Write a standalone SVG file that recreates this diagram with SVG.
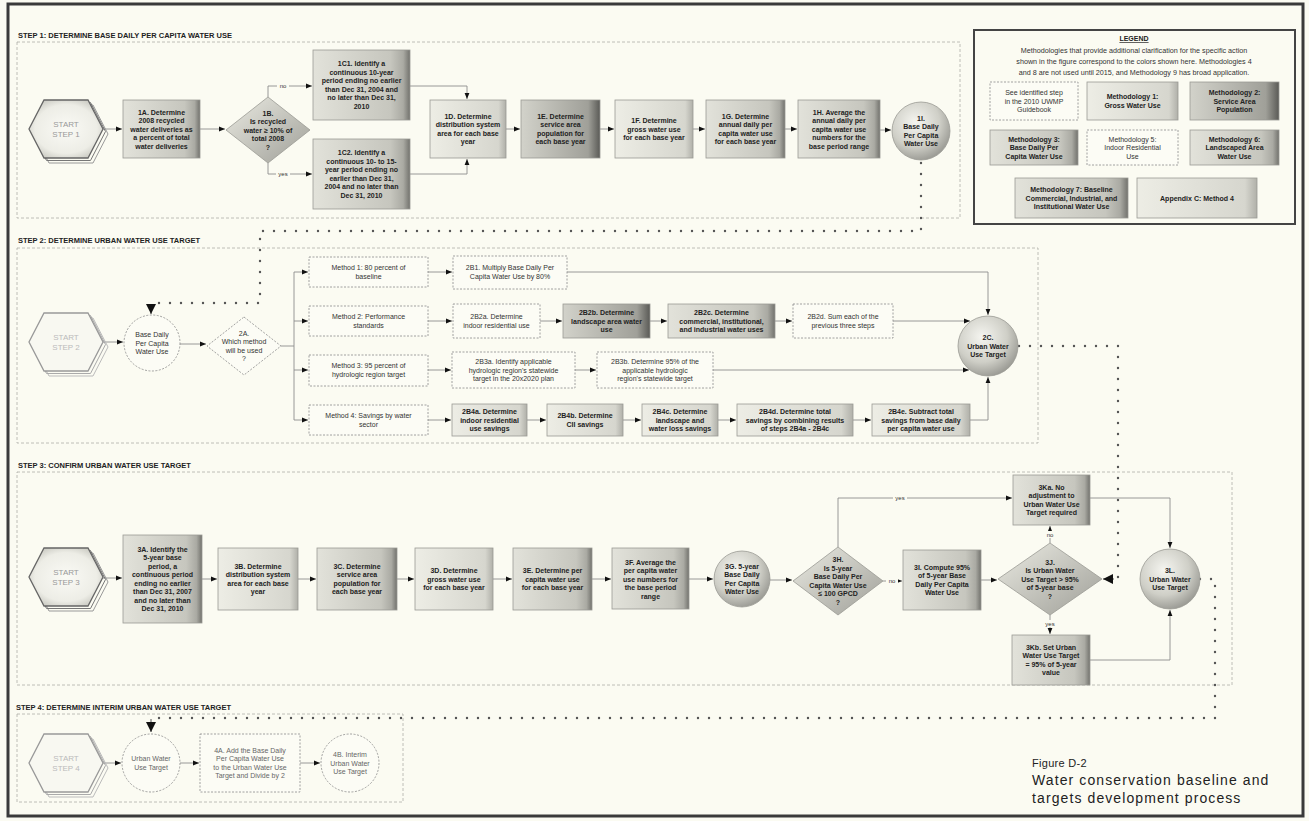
<svg xmlns="http://www.w3.org/2000/svg" width="1309" height="821" viewBox="0 0 1309 821">
<defs>
<linearGradient id="gG" x1="0" y1="0" x2="1" y2="0"><stop offset="0" stop-color="#e2e2da"/><stop offset="0.8" stop-color="#c6c6be"/><stop offset="0.93" stop-color="#aaaaa3"/><stop offset="1" stop-color="#72726d"/></linearGradient>
<linearGradient id="gD" x1="0" y1="0" x2="1" y2="0"><stop offset="0" stop-color="#d2d2ca"/><stop offset="0.85" stop-color="#a0a099"/><stop offset="1" stop-color="#5a5a56"/></linearGradient>
<linearGradient id="gL" x1="0" y1="0" x2="1" y2="0"><stop offset="0" stop-color="#ededE5"/><stop offset="0.9" stop-color="#d6d6ce"/><stop offset="1" stop-color="#b0b0a9"/></linearGradient>
<radialGradient id="gS" cx="0.4" cy="0.35" r="0.7"><stop offset="0" stop-color="#f5f5f0"/><stop offset="0.6" stop-color="#cfcfc7"/><stop offset="1" stop-color="#95958f"/></radialGradient>
<linearGradient id="gDi" x1="0" y1="0" x2="1" y2="1"><stop offset="0" stop-color="#eaeae2"/><stop offset="1" stop-color="#9f9f98"/></linearGradient>
<radialGradient id="gH" cx="0.5" cy="0.5" r="0.6"><stop offset="0" stop-color="#fafaf5"/><stop offset="0.7" stop-color="#ededE6"/><stop offset="1" stop-color="#c4c4bc"/></radialGradient>
<polygon id="hexP" points="-22,-29 22,-29 37,0 22,29 -22,29 -37,0"/>
<marker id="ah" viewBox="0 0 10 10" refX="10" refY="5" markerWidth="6" markerHeight="6" orient="auto" markerUnits="userSpaceOnUse"><path d="M0,1 L10,5 L0,9 z" fill="#111"/></marker>
<marker id="ahB" viewBox="0 0 10 10" refX="10" refY="5" markerWidth="10" markerHeight="10" orient="auto" markerUnits="userSpaceOnUse"><path d="M0,0 L10,5 L0,10 z" fill="#111"/></marker>
</defs>
<style>
.t{font-family:"Liberation Sans",Arial,sans-serif;font-size:7px;text-anchor:middle;fill:#222}
.b{font-weight:bold}
.w{fill:#333}
.lt{fill:#666}
.st{font-size:8px;fill:#999}
.hdr{font-family:"Liberation Sans",Arial,sans-serif;font-size:7.5px;font-weight:bold;fill:#222}
.sec{fill:none;stroke:#b0b0a8;stroke-width:0.8;stroke-dasharray:3 2}
.wb{fill:#fcfcf5;stroke:#8a8a8a;stroke-width:0.8;stroke-dasharray:2 1.5}
.gb{stroke:#9a9a94;stroke-width:0.8}
.ln{fill:none;stroke:#8c8c8c;stroke-width:0.9;marker-end:url(#ah)}
.pl{fill:none;stroke:#8c8c8c;stroke-width:0.9}
.dot{fill:none;stroke:#555;stroke-width:2.4;stroke-dasharray:0 11;stroke-linecap:round}
.dend{fill:none;stroke:#555;stroke-width:1;marker-end:url(#ahB)}
.lbl{font-family:"Liberation Sans",Arial,sans-serif;font-size:6px;text-anchor:middle;fill:#333}
.cap{font-family:"Liberation Sans",Arial,sans-serif;fill:#222}
</style>
<rect width="1309" height="821" fill="#fbfbf2"/>
<rect x="8" y="4" width="1295" height="812" fill="none" stroke="#3a3a3a" stroke-width="3"/>

<g id="sections">
<rect class="sec" x="17" y="42" width="943" height="176"/>
<rect class="sec" x="17" y="248" width="1021" height="195"/>
<rect class="sec" x="17" y="472" width="1215" height="213"/>
<rect class="sec" x="17" y="714" width="386" height="88"/>
<text class="hdr" x="18" y="38">STEP 1: DETERMINE BASE DAILY PER CAPITA WATER USE</text>
<text class="hdr" x="18" y="243">STEP 2: DETERMINE URBAN WATER USE TARGET</text>
<text class="hdr" x="18" y="468">STEP 3: CONFIRM URBAN WATER USE TARGET</text>
<text class="hdr" x="16" y="710">STEP 4: DETERMINE INTERIM URBAN WATER USE TARGET</text>
</g>

<g id="connectors">
<path class="ln" d="M103,129 H122"/>
<path class="ln" d="M200,129 H225"/>
<path class="ln" d="M268,97 V86 H312"/>
<path class="ln" d="M268,163 V174 H312"/>
<path class="ln" d="M410,86 H467 V99"/>
<path class="ln" d="M410,174 H467 V159"/>
<path class="ln" d="M506,129 H520"/>
<path class="ln" d="M600,129 H614"/>
<path class="ln" d="M693,129 H705"/>
<path class="ln" d="M785,129 H797"/>
<path class="ln" d="M880,130 H891"/>
<path class="dot" d="M921,163 V231 H260 V303 H151"/>
<path class="dend" d="M151,304 V314"/>

<path class="ln" d="M103,342 H123"/>
<path class="ln" d="M180,344 H206"/>
<path class="pl" d="M281,346 H294 M294,272 V420"/>
<path class="ln" d="M294,272 H308"/>
<path class="ln" d="M294,321 H308"/>
<path class="ln" d="M294,370 H308"/>
<path class="ln" d="M294,420 H308"/>
<path class="ln" d="M428,272 H452"/>
<path class="ln" d="M567,272 H988 V315"/>
<path class="ln" d="M428,321 H452"/>
<path class="ln" d="M540,321 H562"/>
<path class="ln" d="M650,321 H667"/>
<path class="ln" d="M775,321 H792"/>
<path class="ln" d="M893,321 H970"/>
<path class="ln" d="M428,370 H451"/>
<path class="ln" d="M575,370 H596"/>
<path class="ln" d="M713,370 H969"/>
<path class="ln" d="M428,420 H451"/>
<path class="ln" d="M527,420 H546"/>
<path class="ln" d="M623,420 H641"/>
<path class="ln" d="M718,420 H736"/>
<path class="ln" d="M853,420 H871"/>
<path class="ln" d="M970,420 H988 V377"/>
<path class="dot" d="M1019,346 H1118 V579"/>
<path class="dend" d="M1114,579 H1103"/>

<path class="ln" d="M103,578 H122"/>
<path class="ln" d="M202,579 H217"/>
<path class="ln" d="M298,579 H316"/>
<path class="ln" d="M397,579 H414"/>
<path class="ln" d="M493,579 H512"/>
<path class="ln" d="M592,579 H611"/>
<path class="ln" d="M689,579 H713"/>
<path class="ln" d="M770,580 H792"/>
<path class="ln" d="M883,581 H902"/>
<path class="ln" d="M981,580 H997"/>
<path class="ln" d="M838,547 V498 H1012"/>
<path class="ln" d="M1050,543 V526"/>
<path class="ln" d="M1050,615 V634"/>
<path class="ln" d="M1090,498 H1170 V548"/>
<path class="ln" d="M1090,660 H1170 V610"/>
<path class="dot" d="M1200,579 H1215 V718 H151"/>
<path class="dend" d="M151,719 V732"/>

<path class="ln" d="M103,763 H121"/>
<path class="ln" d="M180,763 H199"/>
<path class="ln" d="M300,763 H320"/>

<rect x="277" y="82" width="12" height="7" fill="#fbfbf2"/><text class="lbl" x="283" y="88">no</text>
<rect x="276" y="170" width="14" height="7" fill="#fbfbf2"/><text class="lbl" x="283" y="176">yes</text>
<rect x="893" y="494" width="14" height="7" fill="#fbfbf2"/><text class="lbl" x="900" y="500">yes</text>
<rect x="886" y="577" width="12" height="7" fill="#fbfbf2"/><text class="lbl" x="892" y="583">no</text>
<rect x="1044" y="531" width="12" height="7" fill="#fbfbf2"/><text class="lbl" x="1050" y="537">no</text>
<rect x="1043" y="620" width="14" height="7" fill="#fbfbf2"/><text class="lbl" x="1050" y="626">yes</text>
</g>

<!-- STEP 1 -->
<g id="start1" transform="translate(66,129)">
<use href="#hexP" transform="translate(5,5)" fill="none" stroke="#999" stroke-width="1"/>
<use href="#hexP" transform="translate(2.5,2.5)" fill="none" stroke="#777" stroke-width="1"/>
<use href="#hexP" fill="url(#gH)" stroke="#666" stroke-width="1.3"/>
<text class="t st" y="-2">START</text><text class="t st" y="8">STEP 1</text>
</g>
<g id="n1A"><rect class="gb" x="123" y="100" width="77" height="58" fill="url(#gG)"/>
<text class="t b" x="161.5" y="114.5"><tspan x="161.5">1A. Determine</tspan><tspan x="161.5" dy="8.5">2008 recycled</tspan><tspan x="161.5" dy="8.5">water deliveries as</tspan><tspan x="161.5" dy="8.5">a percent of total</tspan><tspan x="161.5" dy="8.5">water deliveries</tspan></text></g>
<g id="n1B"><polygon class="gb" points="268,97 310,130 268,163 226,130" fill="url(#gDi)"/>
<text class="t b" x="268" y="115.5"><tspan x="268">1B.</tspan><tspan x="268" dy="8.5">Is recycled</tspan><tspan x="268" dy="8.5">water ≥ 10% of</tspan><tspan x="268" dy="8.5">total 2008</tspan><tspan x="268" dy="8.5">?</tspan></text></g>
<g id="n1C1"><rect class="gb" x="313" y="50" width="97" height="70" fill="url(#gG)"/>
<text class="t b" x="361.5" y="66.25"><tspan x="361.5">1C1. Identify a</tspan><tspan x="361.5" dy="8.5">continuous 10-year</tspan><tspan x="361.5" dy="8.5">period ending no earlier</tspan><tspan x="361.5" dy="8.5">than Dec 31, 2004 and</tspan><tspan x="361.5" dy="8.5">no later than Dec 31,</tspan><tspan x="361.5" dy="8.5">2010</tspan></text></g>
<g id="n1C2"><rect class="gb" x="313" y="139" width="97" height="70" fill="url(#gG)"/>
<text class="t b" x="361.5" y="155.25"><tspan x="361.5">1C2. Identify a</tspan><tspan x="361.5" dy="8.5">continuous 10- to 15-</tspan><tspan x="361.5" dy="8.5">year period ending no</tspan><tspan x="361.5" dy="8.5">earlier than Dec 31,</tspan><tspan x="361.5" dy="8.5">2004 and no later than</tspan><tspan x="361.5" dy="8.5">Dec 31, 2010</tspan></text></g>
<g id="n1D"><rect class="gb" x="430" y="100" width="76" height="58" fill="url(#gL)"/>
<text class="t b" x="468" y="118.75"><tspan x="468">1D. Determine</tspan><tspan x="468" dy="8.5">distribution system</tspan><tspan x="468" dy="8.5">area for each base</tspan><tspan x="468" dy="8.5">year</tspan></text></g>
<g id="n1E"><rect class="gb" x="521" y="100" width="79" height="58" fill="url(#gD)"/>
<text class="t b" x="560.5" y="118.75"><tspan x="560.5">1E. Determine</tspan><tspan x="560.5" dy="8.5">service area</tspan><tspan x="560.5" dy="8.5">population for</tspan><tspan x="560.5" dy="8.5">each base year</tspan></text></g>
<g id="n1F"><rect class="gb" x="615" y="100" width="78" height="58" fill="url(#gL)"/>
<text class="t b" x="654" y="123"><tspan x="654">1F. Determine</tspan><tspan x="654" dy="8.5">gross water use</tspan><tspan x="654" dy="8.5">for each base year</tspan></text></g>
<g id="n1G"><rect class="gb" x="706" y="100" width="79" height="58" fill="url(#gG)"/>
<text class="t b" x="745.5" y="118.75"><tspan x="745.5">1G. Determine</tspan><tspan x="745.5" dy="8.5">annual daily per</tspan><tspan x="745.5" dy="8.5">capita water use</tspan><tspan x="745.5" dy="8.5">for each base year</tspan></text></g>
<g id="n1H"><rect class="gb" x="798" y="100" width="82" height="58" fill="url(#gG)"/>
<text class="t b" x="839" y="114.5"><tspan x="839">1H. Average the</tspan><tspan x="839" dy="8.5">annual daily per</tspan><tspan x="839" dy="8.5">capita water use</tspan><tspan x="839" dy="8.5">numbers for the</tspan><tspan x="839" dy="8.5">base period range</tspan></text></g>
<g id="n1I"><circle class="gb" cx="921" cy="131" r="29" fill="url(#gS)"/>
<text class="t b" x="921" y="120.75"><tspan x="921">1I.</tspan><tspan x="921" dy="8.5">Base Daily</tspan><tspan x="921" dy="8.5">Per Capita</tspan><tspan x="921" dy="8.5">Water Use</tspan></text></g>

<!-- STEP 2 -->
<g id="start2" transform="translate(66,342)">
<use href="#hexP" transform="translate(5,5)" fill="none" stroke="#bbb" stroke-width="1"/>
<use href="#hexP" transform="translate(2.5,2.5)" fill="none" stroke="#aaa" stroke-width="1"/>
<use href="#hexP" fill="#f8f8f1" stroke="#999" stroke-width="1.3"/>
<text class="t st" y="-2" style="fill:#bbb">START</text><text class="t st" y="8" style="fill:#bbb">STEP 2</text>
</g>
<g id="n2base"><circle class="wb" cx="152" cy="343" r="28"/>
<text class="t w" x="152" y="337"><tspan x="152">Base Daily</tspan><tspan x="152" dy="8.5">Per Capita</tspan><tspan x="152" dy="8.5">Water Use</tspan></text></g>
<g id="n2A"><polygon class="wb" points="244,317 281,346 244,375 207,346"/>
<text class="t w" x="244" y="335.75"><tspan x="244">2A.</tspan><tspan x="244" dy="8.5">Which method</tspan><tspan x="244" dy="8.5">will be used</tspan><tspan x="244" dy="8.5">?</tspan></text></g>
<g id="nM1"><rect class="wb" x="309" y="257" width="119" height="30"/>
<text class="t w" x="368.5" y="270.25"><tspan x="368.5">Method 1: 80 percent of</tspan><tspan x="368.5" dy="8.5">baseline</tspan></text></g>
<g id="nM2"><rect class="wb" x="309" y="306" width="119" height="30"/>
<text class="t w" x="368.5" y="319.25"><tspan x="368.5">Method 2: Performance</tspan><tspan x="368.5" dy="8.5">standards</tspan></text></g>
<g id="nM3"><rect class="wb" x="309" y="355" width="119" height="31"/>
<text class="t w" x="368.5" y="368.25"><tspan x="368.5">Method 3: 95 percent of</tspan><tspan x="368.5" dy="8.5">hydrologic region target</tspan></text></g>
<g id="nM4"><rect class="wb" x="309" y="405" width="119" height="30"/>
<text class="t w" x="368.5" y="418.25"><tspan x="368.5">Method 4: Savings by water</tspan><tspan x="368.5" dy="8.5">sector</tspan></text></g>
<g id="n2B1"><rect class="wb" x="453" y="256" width="114" height="33"/>
<text class="t w" x="510" y="270.25"><tspan x="510">2B1. Multiply Base Daily Per</tspan><tspan x="510" dy="8.5">Capita Water Use by 80%</tspan></text></g>
<g id="n2B2a"><rect class="wb" x="453" y="304" width="87" height="34"/>
<text class="t w" x="496.5" y="319.25"><tspan x="496.5">2B2a. Determine</tspan><tspan x="496.5" dy="8.5">indoor residential use</tspan></text></g>
<g id="n2B2b"><rect class="gb" x="563" y="304" width="87" height="34" fill="url(#gD)"/>
<text class="t b" x="606.5" y="315"><tspan x="606.5">2B2b. Determine</tspan><tspan x="606.5" dy="8.5">landscape area water</tspan><tspan x="606.5" dy="8.5">use</tspan></text></g>
<g id="n2B2c"><rect class="gb" x="668" y="304" width="107" height="34" fill="url(#gG)"/>
<text class="t b" x="721.5" y="315"><tspan x="721.5">2B2c. Determine</tspan><tspan x="721.5" dy="8.5">commercial, institutional,</tspan><tspan x="721.5" dy="8.5">and industrial water uses</tspan></text></g>
<g id="n2B2d"><rect class="wb" x="793" y="304" width="100" height="34"/>
<text class="t w" x="843" y="319.25"><tspan x="843">2B2d. Sum each of the</tspan><tspan x="843" dy="8.5">previous three steps</tspan></text></g>
<g id="n2B3a"><rect class="wb" x="452" y="352" width="123" height="36"/>
<text class="t w" x="513.5" y="364"><tspan x="513.5">2B3a. Identify applicable</tspan><tspan x="513.5" dy="8.5">hydrologic region's statewide</tspan><tspan x="513.5" dy="8.5">target in the 20x2020 plan</tspan></text></g>
<g id="n2B3b"><rect class="wb" x="597" y="352" width="116" height="36"/>
<text class="t w" x="655" y="364"><tspan x="655">2B3b. Determine 95% of the</tspan><tspan x="655" dy="8.5">applicable hydrologic</tspan><tspan x="655" dy="8.5">region's statewide target</tspan></text></g>
<g id="n2B4a"><rect class="gb" x="452" y="404" width="75" height="32" fill="url(#gL)"/>
<text class="t b" x="489.5" y="414"><tspan x="489.5">2B4a. Determine</tspan><tspan x="489.5" dy="8.5">indoor residential</tspan><tspan x="489.5" dy="8.5">use savings</tspan></text></g>
<g id="n2B4b"><rect class="gb" x="547" y="404" width="76" height="32" fill="url(#gL)"/>
<text class="t b" x="585" y="418.25"><tspan x="585">2B4b. Determine</tspan><tspan x="585" dy="8.5">CII savings</tspan></text></g>
<g id="n2B4c"><rect class="gb" x="642" y="404" width="76" height="32" fill="url(#gL)"/>
<text class="t b" x="680" y="414"><tspan x="680">2B4c. Determine</tspan><tspan x="680" dy="8.5">landscape and</tspan><tspan x="680" dy="8.5">water loss savings</tspan></text></g>
<g id="n2B4d"><rect class="gb" x="737" y="404" width="116" height="32" fill="url(#gL)"/>
<text class="t b" x="795" y="414"><tspan x="795">2B4d. Determine total</tspan><tspan x="795" dy="8.5">savings by combining results</tspan><tspan x="795" dy="8.5">of steps 2B4a - 2B4c</tspan></text></g>
<g id="n2B4e"><rect class="gb" x="872" y="404" width="98" height="32" fill="url(#gL)"/>
<text class="t b" x="921" y="414"><tspan x="921">2B4e. Subtract total</tspan><tspan x="921" dy="8.5">savings from base daily</tspan><tspan x="921" dy="8.5">per capita water use</tspan></text></g>
<g id="n2C"><circle class="gb" cx="988" cy="346" r="30" fill="url(#gS)"/>
<text class="t b" x="988" y="340"><tspan x="988">2C.</tspan><tspan x="988" dy="8.5">Urban Water</tspan><tspan x="988" dy="8.5">Use Target</tspan></text></g>

<!-- STEP 3 -->
<g id="start3" transform="translate(66,577)">
<use href="#hexP" transform="translate(5,5)" fill="none" stroke="#999" stroke-width="1"/>
<use href="#hexP" transform="translate(2.5,2.5)" fill="none" stroke="#777" stroke-width="1"/>
<use href="#hexP" fill="url(#gH)" stroke="#666" stroke-width="1.3"/>
<text class="t st" y="-2">START</text><text class="t st" y="8">STEP 3</text>
</g>
<g id="n3A"><rect class="gb" x="123" y="535" width="79" height="88" fill="url(#gG)"/>
<text class="t b" x="162.5" y="551.75"><tspan x="162.5">3A. Identify the</tspan><tspan x="162.5" dy="8.5">5-year base</tspan><tspan x="162.5" dy="8.5">period, a</tspan><tspan x="162.5" dy="8.5">continuous period</tspan><tspan x="162.5" dy="8.5">ending no earlier</tspan><tspan x="162.5" dy="8.5">than Dec 31, 2007</tspan><tspan x="162.5" dy="8.5">and no later than</tspan><tspan x="162.5" dy="8.5">Dec 31, 2010</tspan></text></g>
<g id="n3B"><rect class="gb" x="218" y="548" width="80" height="62" fill="url(#gL)"/>
<text class="t b" x="258" y="568.75"><tspan x="258">3B. Determine</tspan><tspan x="258" dy="8.5">distribution system</tspan><tspan x="258" dy="8.5">area for each base</tspan><tspan x="258" dy="8.5">year</tspan></text></g>
<g id="n3C"><rect class="gb" x="317" y="548" width="80" height="62" fill="url(#gG)"/>
<text class="t b" x="357" y="568.75"><tspan x="357">3C. Determine</tspan><tspan x="357" dy="8.5">service area</tspan><tspan x="357" dy="8.5">population for</tspan><tspan x="357" dy="8.5">each base year</tspan></text></g>
<g id="n3D"><rect class="gb" x="415" y="548" width="78" height="62" fill="url(#gL)"/>
<text class="t b" x="454" y="573"><tspan x="454">3D. Determine</tspan><tspan x="454" dy="8.5">gross water use</tspan><tspan x="454" dy="8.5">for each base year</tspan></text></g>
<g id="n3E"><rect class="gb" x="513" y="548" width="79" height="62" fill="url(#gG)"/>
<text class="t b" x="552.5" y="573"><tspan x="552.5">3E. Determine per</tspan><tspan x="552.5" dy="8.5">capita water use</tspan><tspan x="552.5" dy="8.5">for each base year</tspan></text></g>
<g id="n3F"><rect class="gb" x="612" y="548" width="77" height="61" fill="url(#gG)"/>
<text class="t b" x="650.5" y="564.5"><tspan x="650.5">3F. Average the</tspan><tspan x="650.5" dy="8.5">per capita water</tspan><tspan x="650.5" dy="8.5">use numbers for</tspan><tspan x="650.5" dy="8.5">the base period</tspan><tspan x="650.5" dy="8.5">range</tspan></text></g>
<g id="n3G"><circle class="gb" cx="742" cy="579" r="28" fill="url(#gS)"/>
<text class="t b" x="742" y="568.75"><tspan x="742">3G. 5-year</tspan><tspan x="742" dy="8.5">Base Daily</tspan><tspan x="742" dy="8.5">Per Capita</tspan><tspan x="742" dy="8.5">Water Use</tspan></text></g>
<g id="n3H"><polygon class="gb" points="838,547 883,581 838,615 793,581" fill="url(#gDi)"/>
<text class="t b" x="838" y="562.25"><tspan x="838">3H.</tspan><tspan x="838" dy="8.5">Is 5-year</tspan><tspan x="838" dy="8.5">Base Daily Per</tspan><tspan x="838" dy="8.5">Capita Water Use</tspan><tspan x="838" dy="8.5">≤ 100 GPCD</tspan><tspan x="838" dy="8.5">?</tspan></text></g>
<g id="n3I"><rect class="gb" x="903" y="550" width="78" height="60" fill="url(#gG)"/>
<text class="t b" x="942" y="569.75"><tspan x="942">3I. Compute 95%</tspan><tspan x="942" dy="8.5">of 5-year Base</tspan><tspan x="942" dy="8.5">Daily Per Capita</tspan><tspan x="942" dy="8.5">Water Use</tspan></text></g>
<g id="n3J"><polygon class="gb" points="1050,543 1102,579 1050,615 998,579" fill="url(#gDi)"/>
<text class="t b" x="1050" y="564.5"><tspan x="1050">3J.</tspan><tspan x="1050" dy="8.5">Is Urban Water</tspan><tspan x="1050" dy="8.5">Use Target &gt; 95%</tspan><tspan x="1050" dy="8.5">of 5-year base</tspan><tspan x="1050" dy="8.5">?</tspan></text></g>
<g id="n3Ka"><rect class="gb" x="1013" y="475" width="77" height="50" fill="url(#gG)"/>
<text class="t b" x="1051.5" y="489.75"><tspan x="1051.5">3Ka. No</tspan><tspan x="1051.5" dy="8.5">adjustment to</tspan><tspan x="1051.5" dy="8.5">Urban Water Use</tspan><tspan x="1051.5" dy="8.5">Target required</tspan></text></g>
<g id="n3Kb"><rect class="gb" x="1012" y="635" width="78" height="50" fill="url(#gG)"/>
<text class="t b" x="1051" y="649.75"><tspan x="1051">3Kb. Set Urban</tspan><tspan x="1051" dy="8.5">Water Use Target</tspan><tspan x="1051" dy="8.5">= 95% of 5-year</tspan><tspan x="1051" dy="8.5">value</tspan></text></g>
<g id="n3L"><circle class="gb" cx="1170" cy="579" r="30" fill="url(#gS)"/>
<text class="t b" x="1170" y="573"><tspan x="1170">3L.</tspan><tspan x="1170" dy="8.5">Urban Water</tspan><tspan x="1170" dy="8.5">Use Target</tspan></text></g>

<!-- STEP 4 -->
<g id="start4" transform="translate(66,763)">
<use href="#hexP" transform="translate(5,5)" fill="none" stroke="#bbb" stroke-width="1"/>
<use href="#hexP" transform="translate(2.5,2.5)" fill="none" stroke="#aaa" stroke-width="1"/>
<use href="#hexP" fill="#f8f8f1" stroke="#999" stroke-width="1.3"/>
<text class="t st" y="-2" style="fill:#bbb">START</text><text class="t st" y="8" style="fill:#bbb">STEP 4</text>
</g>
<g id="n4target"><circle class="wb" cx="151" cy="763" r="29"/>
<text class="t lt" x="151" y="761.25"><tspan x="151">Urban Water</tspan><tspan x="151" dy="8.5">Use Target</tspan></text></g>
<g id="n4A"><rect class="wb" x="200" y="734" width="100" height="58"/>
<text class="t lt" x="250" y="752.75"><tspan x="250">4A. Add the Base Daily</tspan><tspan x="250" dy="8.5">Per Capita Water Use</tspan><tspan x="250" dy="8.5">to the Urban Water Use</tspan><tspan x="250" dy="8.5">Target and Divide by 2</tspan></text></g>
<g id="n4B"><circle class="wb" cx="350" cy="763" r="29"/>
<text class="t lt" x="350" y="757"><tspan x="350">4B. Interim</tspan><tspan x="350" dy="8.5">Urban Water</tspan><tspan x="350" dy="8.5">Use Target</tspan></text></g>

<!-- LEGEND -->
<g id="legend">
<rect x="974" y="30" width="321" height="194" fill="#fbfbf2" stroke="#444" stroke-width="2"/>
<text class="t b" x="1134" y="41" style="text-decoration:underline">LEGEND</text>
<text class="t w" x="1134" y="53" style="font-size:7.2px">Methodologies that provide additional clarification for the specific action</text>
<text class="t w" x="1134" y="64" style="font-size:7.2px">shown in the figure correspond to the colors shown here. Methodologies 4</text>
<text class="t w" x="1134" y="75" style="font-size:7.2px">and 8 are not used until 2015, and Methodology 9 has broad application.</text>
<rect class="wb" x="990" y="82" width="88" height="38"/>
<text class="t w" x="1034" y="95"><tspan x="1034">See identified step</tspan><tspan x="1034" dy="8.5">in the 2010 UWMP</tspan><tspan x="1034" dy="8.5">Guidebook</tspan></text>
<rect class="gb" x="1087" y="82" width="91" height="38" fill="url(#gL)"/>
<text class="t b" x="1132.5" y="99.25"><tspan x="1132.5">Methodology 1:</tspan><tspan x="1132.5" dy="8.5">Gross Water Use</tspan></text>
<rect class="gb" x="1190" y="82" width="89" height="38" fill="url(#gD)"/>
<text class="t b" x="1234.5" y="95"><tspan x="1234.5">Methodology 2:</tspan><tspan x="1234.5" dy="8.5">Service Area</tspan><tspan x="1234.5" dy="8.5">Population</tspan></text>
<rect class="gb" x="990" y="130" width="88" height="35" fill="url(#gG)"/>
<text class="t b" x="1034" y="141.5"><tspan x="1034">Methodology 3:</tspan><tspan x="1034" dy="8.5">Base Daily Per</tspan><tspan x="1034" dy="8.5">Capita Water Use</tspan></text>
<rect class="wb" x="1087" y="130" width="91" height="35"/>
<text class="t w" x="1132.5" y="141.5"><tspan x="1132.5">Methodology 5:</tspan><tspan x="1132.5" dy="8.5">Indoor Residential</tspan><tspan x="1132.5" dy="8.5">Use</tspan></text>
<rect class="gb" x="1190" y="130" width="89" height="35" fill="url(#gG)"/>
<text class="t b" x="1234.5" y="141.5"><tspan x="1234.5">Methodology 6:</tspan><tspan x="1234.5" dy="8.5">Landscaped Area</tspan><tspan x="1234.5" dy="8.5">Water Use</tspan></text>
<rect class="gb" x="1015" y="178" width="113" height="40" fill="url(#gG)"/>
<text class="t b" x="1071.5" y="192"><tspan x="1071.5">Methodology 7: Baseline</tspan><tspan x="1071.5" dy="8.5">Commercial, Industrial, and</tspan><tspan x="1071.5" dy="8.5">Institutional Water Use</tspan></text>
<rect class="gb" x="1137" y="178" width="120" height="40" fill="url(#gL)"/>
<text class="t b" x="1197" y="200.5">Appendix C: Method 4</text>
</g>

<g id="caption">
<text class="cap" x="1032" y="767" style="font-size:11px;letter-spacing:0.3px">Figure D-2</text>
<text class="cap" x="1032" y="785" style="font-size:14px;letter-spacing:1.1px">Water conservation baseline and</text>
<text class="cap" x="1032" y="803" style="font-size:14px;letter-spacing:1.1px">targets development process</text>
</g>
</svg>
